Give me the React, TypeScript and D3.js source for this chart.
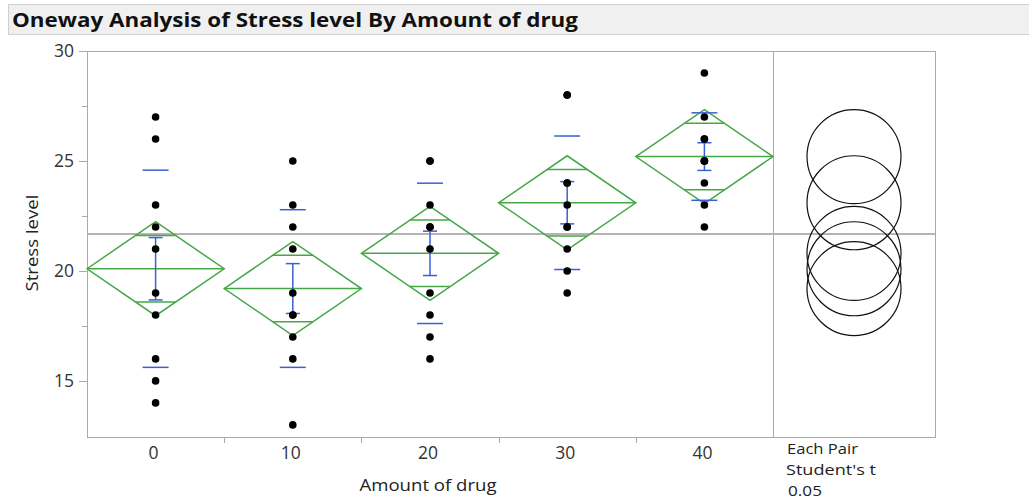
import * as d3 from 'd3';

const groups = ['0', '10', '20', '30', '40'];
const dose0 = [27, 26, 23, 22, 21, 19, 18, 16, 15, 14];
const dose10 = [25, 23, 22, 21, 19, 18, 18, 17, 16, 13];
const dose20 = [25, 25, 23, 22, 22, 21, 19, 18, 17, 16];
const dose30 = [28, 28, 24, 24, 23, 22, 22, 21, 20, 19];
const dose40 = [29, 27, 26, 26, 25, 25, 25, 24, 23, 22];
const yTicks = [15, 20, 25, 30];
const yMinorTicks = [17.5, 22.5, 27.5];
const tCrit = 2.014; // t(0.975, 45)

const samples = [dose0, dose10, dose20, dose30, dose40];

const FONT = "'Open Sans', 'DejaVu Sans', sans-serif";
const GREEN = '#46a845';
const BLUE = '#3b5fd6';
const FRAME = '#a9a9a9';

function App() {
  const plot = { left: 87, right: 773, top: 51, bottom: 437 };
  const panelRight = 935;

  const x = d3.scaleBand<string>().domain(groups).range([plot.left, plot.right]).padding(0);
  const y = d3.scaleLinear().domain([12.45, 30]).range([plot.bottom, plot.top]);

  // group stats
  const stats = samples.map((vals, i) => {
    const mean = d3.mean(vals) as number;
    const sd = d3.deviation(vals) as number;
    return { g: groups[i], vals, mean, sd, n: vals.length };
  });
  const sse = d3.sum(stats, s => d3.sum(s.vals, v => (v - s.mean) ** 2));
  const dfe = d3.sum(stats, s => s.n) - stats.length;
  const rmse = Math.sqrt(sse / dfe);
  const grandMean = d3.mean(samples.flat()) as number;

  const bw = x.bandwidth();
  const circleCx = (plot.right + panelRight) / 2;

  return (
    <svg width={1029} height={501} style={{ position: 'absolute', left: 0, top: 0, background: '#fff' }}>
      {/* title bar */}
      <rect x={8.5} y={4.5} width={1030} height={30} fill="#f0f0f0" stroke="#cfcfcf" />
      <text x={12} y={27} fontFamily={FONT} fontWeight="bold" fontSize={20} fill="#111"
        textLength={566} lengthAdjust="spacingAndGlyphs">
        Oneway Analysis of Stress level By Amount of drug
      </text>

      {/* frames */}
      <rect x={plot.left + 0.5} y={plot.top + 0.5} width={plot.right - plot.left} height={plot.bottom - plot.top}
        fill="none" stroke={FRAME} />
      <rect x={plot.right + 0.5} y={plot.top + 0.5} width={panelRight - plot.right} height={plot.bottom - plot.top}
        fill="none" stroke={FRAME} />

      {/* y axis */}
      {yTicks.map(t => (
        <g key={t}>
          <line x1={plot.left - 8} x2={plot.left} y1={Math.round(y(t)) + 0.5} y2={Math.round(y(t)) + 0.5} stroke={FRAME} />
          <text x={plot.left - 13} y={y(t) + 6} textAnchor="end" fontFamily={FONT} fontSize={17.5} fill="#333">{t}</text>
        </g>
      ))}
      {yMinorTicks.map(t => (
        <line key={t} x1={plot.left - 5} x2={plot.left} y1={Math.round(y(t)) + 0.5} y2={Math.round(y(t)) + 0.5} stroke={FRAME} />
      ))}
      <text transform={`translate(38,${(plot.top + plot.bottom) / 2 - 1}) rotate(-90)`} textAnchor="middle"
        fontFamily={FONT} fontSize={17} fill="#222" textLength={97} lengthAdjust="spacingAndGlyphs">Stress level</text>

      {/* x axis */}
      {groups.slice(1).map(g => (
        <line key={g} x1={Math.round(x(g) as number) + 0.5} x2={Math.round(x(g) as number) + 0.5}
          y1={plot.bottom} y2={plot.bottom + 6} stroke={FRAME} />
      ))}
      {groups.map(g => (
        <text key={g} x={(x(g) as number) + bw / 2 - 2} y={459} textAnchor="middle" fontFamily={FONT} fontSize={17.5} fill="#333">{g}</text>
      ))}
      <text x={(plot.left + plot.right) / 2 - 2} y={491} textAnchor="middle" fontFamily={FONT} fontSize={17} fill="#222"
        textLength={137} lengthAdjust="spacingAndGlyphs">Amount of drug</text>
      <text x={787} y={454} fontFamily={FONT} fontSize={15} fill="#222" textLength={71} lengthAdjust="spacingAndGlyphs">Each Pair</text>
      <text x={786} y={475} fontFamily={FONT} fontSize={15} fill="#222" textLength={90} lengthAdjust="spacingAndGlyphs">Student's t</text>
      <text x={788} y={496} fontFamily={FONT} fontSize={15} fill="#222" textLength={34} lengthAdjust="spacingAndGlyphs">0.05</text>

      {/* grand mean */}
      <line x1={plot.left} x2={panelRight} y1={y(grandMean)} y2={y(grandMean)} stroke="#b4b4b4" strokeWidth={2} />

      {/* diamonds */}
      {stats.map(s => {
        const x0 = x(s.g) as number;
        const cx = x0 + bw / 2;
        const ci = tCrit * rmse / Math.sqrt(s.n);
        const ov = ci / Math.SQRT2;
        const hw = bw / 2 * (1 - ov / ci);
        const pts: [number, number][] = [
          [x0, y(s.mean)], [cx, y(s.mean + ci)], [x0 + bw, y(s.mean)], [cx, y(s.mean - ci)],
        ];
        return (
          <g key={s.g} stroke={GREEN} strokeWidth={1.5} fill="none">
            <path d={(d3.line()(pts) as string) + 'Z'} />
            <line x1={x0} x2={x0 + bw} y1={y(s.mean)} y2={y(s.mean)} />
            <line x1={cx - hw} x2={cx + hw} y1={y(s.mean + ov)} y2={y(s.mean + ov)} />
            <line x1={cx - hw} x2={cx + hw} y1={y(s.mean - ov)} y2={y(s.mean - ov)} />
          </g>
        );
      })}

      {/* std dev lines and error bars */}
      {stats.map(s => {
        const cx = (x(s.g) as number) + bw / 2;
        const se = s.sd / Math.sqrt(s.n);
        return (
          <g key={s.g} stroke={BLUE} strokeWidth={1.5}>
            <line x1={cx - 13} x2={cx + 13} y1={y(s.mean + s.sd)} y2={y(s.mean + s.sd)} />
            <line x1={cx - 13} x2={cx + 13} y1={y(s.mean - s.sd)} y2={y(s.mean - s.sd)} />
            <line x1={cx} x2={cx} y1={y(s.mean + se)} y2={y(s.mean - se)} />
            <line x1={cx - 7} x2={cx + 7} y1={y(s.mean + se)} y2={y(s.mean + se)} />
            <line x1={cx - 7} x2={cx + 7} y1={y(s.mean - se)} y2={y(s.mean - se)} />
          </g>
        );
      })}

      {/* points */}
      {stats.map(s => (
        <g key={s.g}>
          {s.vals.map((v, i) => (
            <circle key={i} cx={(x(s.g) as number) + bw / 2} cy={y(v)} r={3.8} fill="#000" />
          ))}
        </g>
      ))}

      {/* comparison circles */}
      {stats.map(s => {
        const r = y(s.mean) - y(s.mean + tCrit * rmse / Math.sqrt(s.n));
        return <circle key={s.g} cx={circleCx} cy={y(s.mean)} r={r} fill="none" stroke="#111" strokeWidth={1.2} />;
      })}
    </svg>
  );
}

export default App;
